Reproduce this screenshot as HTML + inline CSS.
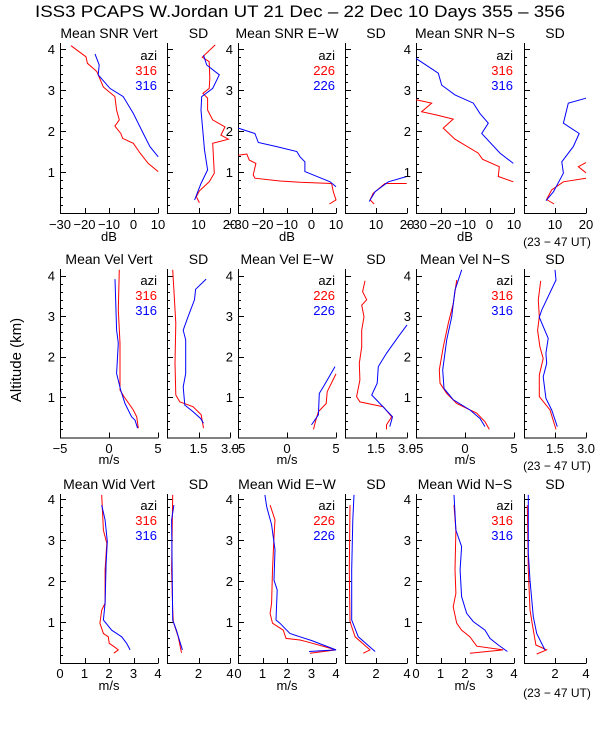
<!DOCTYPE html>
<html><head><meta charset="utf-8"><style>
html,body{margin:0;padding:0;background:#fff;}
svg{display:block;font-family:"Liberation Sans",sans-serif;}
</style></head><body>
<svg id="chart" width="600" height="750" viewBox="0 0 600 750" xmlns="http://www.w3.org/2000/svg">
<rect x="0" y="0" width="600" height="750" fill="#fff"/>
<text x="300" y="17" font-size="17" text-anchor="middle" textLength="530" lengthAdjust="spacingAndGlyphs">ISS3 PCAPS W.Jordan UT  21 Dec – 22 Dec 10 Days 355 – 356</text>
<text transform="translate(21,360) rotate(-90)" font-size="15" text-anchor="middle">Altitude (km)</text>
</svg>
<script>
// ---- data: [value, altitude km] ----
const snrVertRed=[[-25.5,4.08],[-19.4,3.81],[-18.8,3.65],[-15.0,3.45],[-12.3,3.07],[-7.6,2.84],[-6.9,2.51],[-5.8,2.27],[-7.6,2.12],[-5.2,1.94],[-4.4,1.82],[-0.1,1.70],[2.7,1.46],[6.0,1.21],[10.1,1.01]];
const snrVertBlue=[[-15.7,3.88],[-14.0,3.61],[-14.4,3.37],[-9.6,3.04],[-4.2,2.84],[-0.1,2.43],[4.0,1.94],[6.7,1.62],[10.1,1.37]];
const snrVertSdRed=[[15.3,4.10],[11.2,3.80],[13.4,3.69],[13.6,3.28],[13.4,3.04],[11.4,2.92],[12.9,2.80],[12.9,2.51],[14.5,2.27],[18.4,2.10],[17.1,1.90],[19.5,1.80],[14.5,1.70],[15.0,0.97],[13.4,0.76],[10.3,0.54],[9.3,0.40],[10.3,0.25]];
const snrVertSdBlue=[[11.6,3.85],[12.6,3.61],[16.6,3.37],[14.5,3.04],[11.0,2.84],[10.8,2.51],[11.9,1.54],[12.9,1.05],[10.8,0.72],[8.75,0.32]];
const snrEwRed=[[-29.9,1.41],[-26.4,1.44],[-25.4,1.29],[-22.7,1.21],[-23.8,0.93],[-23.1,0.85],[-12.9,0.78],[-4.7,0.75],[8.2,0.72],[8.9,0.52],[10,0.32],[7.3,0.22]];
const snrEwBlue=[[-29.9,2.07],[-23.1,1.94],[-21.7,1.72],[-14.2,1.62],[-6.0,1.50],[-4.7,1.37],[-2.7,1.25],[-2.7,1.01],[7.6,0.76],[10,0.64]];
const snrEwSdRed=[[19.9,0.72],[12.9,0.72],[9.1,0.48],[8.1,0.32],[9.4,0.22]];
const snrEwSdBlue=[[19.9,0.89],[14.0,0.76],[9.7,0.52],[7.8,0.28]];
const snrNsRed=[[-30,2.76],[-23.6,2.68],[-27.7,2.47],[-21.6,2.39],[-14.8,2.29],[-18.9,2.07],[-14.1,1.80],[-4.6,1.46],[-2.8,1.31],[4.0,1.13],[3.6,0.89],[9.7,0.76]];
const snrNsBlue=[[-30,3.77],[-20.9,3.41],[-19.5,3.12],[-14.1,2.88],[-6.6,2.68],[-3.9,2.43],[-0.5,2.19],[-3.2,1.94],[4.3,1.46],[9.7,1.21]];
const snrNsSdRed=[[20,1.23],[17.5,1.13],[20,0.98],null,[20,0.85],[12.7,0.76],[8.9,0.56],[7.3,0.33],[9.7,0.22]];
const snrNsSdBlue=[[20,2.80],[14.3,2.68],[12.7,2.19],[17.8,1.94],[15.9,1.62],[12.2,1.25],[12.7,0.97],[9.5,0.52],[7.1,0.30]];

const velVertRed=[[1.05,4.14],[0.95,3.15],[1.12,2.33],[1.12,1.17],[1.53,1.01],[2.48,0.68],[2.83,0.51],[2.99,0.23]];
const velVertBlue=[[0.61,3.91],[0.78,2.65],[0.95,2.33],[0.78,1.58],[1.19,1.17],[1.63,0.84],[2.31,0.51],[2.65,0.43],[2.92,0.23]];
const velVertSdRed=[[0.27,4.14],[0.33,3.64],[0.42,2.82],[0.38,1.83],[0.42,1.05],[0.61,0.88],[1.24,0.76],[1.63,0.56],[1.74,0.23]];
const velVertSdBlue=[[1.86,3.91],[1.36,3.66],[1.31,3.40],[1.00,2.98],[0.77,2.65],[0.89,2.41],[0.89,1.58],[0.77,1.25],[0.85,0.80],[1.24,0.64],[1.60,0.47],[1.74,0.35]];
const velEwRed=[[5,1.57],[4.1,1.13],[4.0,0.84],[3.2,0.64],[2.9,0.39],[2.7,0.20]];
const velEwBlue=[[4.9,1.75],[3.7,1.25],[3.3,1.09],[3.2,0.56],[2.5,0.31]];
const velEwSdRed=[[0.97,3.87],[0.85,3.60],[1.05,3.40],[0.81,3.27],[0.92,2.98],[0.81,2.65],[0.81,2.24],[0.69,1.83],[0.72,1.42],[0.56,1.01],[0.72,0.88],[1.85,0.76],[2.26,0.51],[2.01,0.31],[2.01,0.20]];
const velEwSdBlue=[[3.0,2.78],[2.58,2.49],[2.01,2.08],[1.61,1.75],[1.56,1.34],[1.29,1.05],[1.69,0.84],[2.30,0.51],[2.17,0.27]];
const velNsRed=[[-0.85,3.89],[-1.19,3.31],[-1.70,2.82],[-2.21,2.24],[-2.62,1.67],[-2.55,1.34],[-1.87,1.09],[-0.85,0.84],[1.19,0.60],[2.04,0.39],[2.48,0.20]];
const velNsBlue=[[-0.34,4.14],[-1.02,3.64],[-1.36,2.98],[-1.87,2.41],[-2.28,1.67],[-2.14,1.21],[-1.19,0.93],[0.51,0.68],[1.53,0.47],[2.04,0.27]];
const velNsSdRed=[[0.81,3.87],[0.69,3.40],[0.74,2.98],[0.66,2.65],[0.77,2.24],[0.93,1.95],[0.74,1.54],[0.74,1.01],[1.26,0.68],[1.55,0.20]];
const velNsSdBlue=[[1.50,4.14],[1.55,3.89],[0.86,3.15],[0.74,2.97],[1.17,2.45],[1.06,2.08],[1.10,1.83],[0.93,1.50],[1.06,0.97],[1.34,0.68],[1.61,0.27]];

const widVertRed=[[1.70,4.10],[1.77,3.24],[1.91,2.92],[1.84,2.27],[1.84,1.46],[1.70,1.29],[1.63,0.97],[1.77,0.72],[1.97,0.64],[2.01,0.48],[2.18,0.41],[2.38,0.32],[2.20,0.24]];
const widVertBlue=[[1.70,3.85],[1.84,3.49],[1.93,2.96],[1.88,2.43],[1.84,1.46],[1.77,1.05],[2.11,0.80],[2.52,0.64],[2.72,0.48],[2.86,0.32]];
const widVertSdRed=[[0.36,4.10],[0.29,2.27],[0.36,1.29],[0.40,1.01],[0.71,0.64],[0.92,0.25]];
const widVertSdBlue=[[0.44,3.85],[0.29,3.49],[0.36,1.05],[0.60,0.80],[0.98,0.32]];
const widEwRed=[[1.31,3.85],[1.51,3.49],[1.47,3.08],[1.41,2.27],[1.37,1.46],[1.31,1.21],[1.41,0.97],[1.85,0.80],[1.96,0.60],[2.53,0.56],[2.80,0.52],[4.0,0.32],[2.94,0.24]];
const widEwBlue=[[1.10,4.10],[1.17,3.81],[1.37,3.37],[1.51,2.76],[1.47,2.02],[1.60,1.78],[1.55,1.05],[1.71,0.97],[2.12,0.72],[2.53,0.64],[3.0,0.55],[4.0,0.32],[2.9,0.28]];
const widEwSdRed=[[0.32,3.85],[0.28,2.27],[0.32,1.01],[0.65,0.64],[1.61,0.32],[1.18,0.24]];
const widEwSdBlue=[[0.58,4.10],[0.50,3.49],[0.43,2.27],[0.43,1.05],[0.86,0.64],[1.94,0.28]];
const widNsRed=[[1.55,3.85],[1.63,3.24],[1.59,2.27],[1.63,1.70],[1.52,1.37],[1.66,0.97],[1.86,0.80],[2.20,0.64],[2.48,0.41],[3.56,0.32],[2.20,0.24]];
const widNsBlue=[[1.55,4.10],[1.63,3.24],[1.86,2.84],[1.80,2.27],[1.86,1.62],[2.07,1.21],[2.34,1.01],[2.82,0.80],[3.02,0.60],[3.36,0.44],[3.73,0.28]];
const widNsSdRed=[[0.21,3.85],[0.28,2.27],[0.39,1.29],[0.56,0.89],[0.77,0.44],[1.46,0.32],[0.82,0.22]];
const widNsSdBlue=[[0.28,4.10],[0.28,2.68],[0.39,2.02],[0.60,1.13],[0.82,0.72],[1.35,0.32]];

// tick label arrays
const snrTicks=[-30,-20,-10,0,10];
const snrSdTicks=[10,20];
const velTicks=[-5,0,5];
const velSdTicks=["1.5","3.0"];
const widTicks=[0,1,2,3,4];
const widSdTicks=[2,4];
const altTicks=[1,2,3,4];
const azi=["316","226","316"];

const svg=document.getElementById('chart');
const NS='http://www.w3.org/2000/svg';
function mk(tag,attrs,parent){const e=document.createElementNS(NS,tag);for(const k in attrs)e.setAttribute(k,attrs[k]);(parent||svg).appendChild(e);return e;}

const cols=[[60,158],[167,230],[238,336],[345,407],[416,514],[524,586]];
const rows=[{top:43,bot:213,ppk:41,title:38,tick:229,xl:241,ut:246},{top:269,bot:437.5,ppk:40.5,title:264,tick:453,xl:464,ut:470},{top:494,bot:663,ppk:41,title:489,tick:678,xl:690,ut:697}];
const panels=[
 {r:0,c:0,title:"Mean SNR Vert",x0:-30,x1:10,ticks:snrTicks,red:snrVertRed,blue:snrVertBlue,azi:azi[0],xl:"dB"},
 {r:0,c:1,title:"SD",x0:0,x1:20,ticks:snrSdTicks,red:snrVertSdRed,blue:snrVertSdBlue},
 {r:0,c:2,title:"Mean SNR E-W",x0:-30,x1:10,ticks:snrTicks,red:snrEwRed,blue:snrEwBlue,azi:azi[1],xl:"dB"},
 {r:0,c:3,title:"SD",x0:0,x1:20,ticks:snrSdTicks,red:snrEwSdRed,blue:snrEwSdBlue},
 {r:0,c:4,title:"Mean SNR N-S",x0:-30,x1:10,ticks:snrTicks,red:snrNsRed,blue:snrNsBlue,azi:azi[2],xl:"dB"},
 {r:0,c:5,title:"SD",x0:0,x1:20,ticks:snrSdTicks,red:snrNsSdRed,blue:snrNsSdBlue,ut:true},
 {r:1,c:0,title:"Mean Vel Vert",x0:-5,x1:5,ticks:velTicks,red:velVertRed,blue:velVertBlue,azi:azi[0],xl:"m/s"},
 {r:1,c:1,title:"SD",x0:0,x1:3,ticks:velSdTicks,red:velVertSdRed,blue:velVertSdBlue},
 {r:1,c:2,title:"Mean Vel E-W",x0:-5,x1:5,ticks:velTicks,red:velEwRed,blue:velEwBlue,azi:azi[1],xl:"m/s"},
 {r:1,c:3,title:"SD",x0:0,x1:3,ticks:velSdTicks,red:velEwSdRed,blue:velEwSdBlue},
 {r:1,c:4,title:"Mean Vel N-S",x0:-5,x1:5,ticks:velTicks,red:velNsRed,blue:velNsBlue,azi:azi[2],xl:"m/s"},
 {r:1,c:5,title:"SD",x0:0,x1:3,ticks:velSdTicks,red:velNsSdRed,blue:velNsSdBlue,ut:true},
 {r:2,c:0,title:"Mean Wid Vert",x0:0,x1:4,ticks:widTicks,red:widVertRed,blue:widVertBlue,azi:azi[0],xl:"m/s"},
 {r:2,c:1,title:"SD",x0:0,x1:4,ticks:widSdTicks,red:widVertSdRed,blue:widVertSdBlue},
 {r:2,c:2,title:"Mean Wid E-W",x0:0,x1:4,ticks:widTicks,red:widEwRed,blue:widEwBlue,azi:azi[1],xl:"m/s"},
 {r:2,c:3,title:"SD",x0:0,x1:4,ticks:widSdTicks,red:widEwSdRed,blue:widEwSdBlue},
 {r:2,c:4,title:"Mean Wid N-S",x0:0,x1:4,ticks:widTicks,red:widNsRed,blue:widNsBlue,azi:azi[2],xl:"m/s"},
 {r:2,c:5,title:"SD",x0:0,x1:4,ticks:widSdTicks,red:widNsSdRed,blue:widNsSdBlue,ut:true}
];

panels.forEach((p,i)=>{
 const R=rows[p.r],[L,Rt]=cols[p.c];
 const g=mk('g',{});
 
 
 const xs=v=>L+(v-p.x0)/(p.x1-p.x0)*(Rt-L);
 const ys=a=>R.bot-a*R.ppk;
 // axes
 const ax=mk('path',{d:`M${L+0.5},${R.top} V${R.bot+0.5} H${Rt+0.5}`,stroke:'#000','stroke-width':1,fill:'none'},g);
 
 
 let d='';
 for(let k=1;k*0.2<=(R.bot-R.top)/R.ppk;k++){const a=k*0.2,y=Math.round(ys(a))+0.5;const maj=k%5===0;d+=`M${L},${y}h${maj?6:3}`;}
 p.ticks.forEach(t=>{const x=Math.round(xs(+t))+0.5;d+=`M${x},${R.bot}v-5`;});
 const tk=mk('path',{d:d,stroke:'#000','stroke-width':1},g);
 
 
 // labels
 p.ticks.forEach(t=>{const tx=mk('text',{x:xs(+t),y:R.tick,'font-size':13,'text-anchor':'middle'},g);tx.textContent=String(t).replace('-','\u2212');
  
  });
 if(p.c%2===0){altTicks.forEach(a=>{const tx=mk('text',{x:L-5,y:ys(a)+5,'font-size':13,'text-anchor':'end'},g);tx.textContent=a;
  
  });}
 const tt=mk('text',{x:(L+Rt)/2,y:R.title,'font-size':14,'text-anchor':'middle'},g);tt.textContent=p.title.replace('-','\u2212');
 
 
 if(p.xl){const t=mk('text',{x:(L+Rt)/2,y:R.xl,'font-size':13,'text-anchor':'middle'},g);t.textContent=p.xl;
  
  }
 if(p.ut){const t=mk('text',{x:557,y:R.ut,'font-size':12,'text-anchor':'middle'},g);t.textContent='(23 \u2212 47 UT)';
  
  }
 if(p.azi){const by=R.top+(p.r===1?16:p.r===2?16:17);
  [['azi','#000'],[p.azi,'#f00'],[p.azi,'#00f']].forEach((q,j)=>{const t=mk('text',{x:Rt-1,y:by+j*15,'font-size':13,'text-anchor':'end',fill:q[1]},g);t.textContent=q[0];
   
   });}
 // series
 [['red','#f00',p.red],['blue','#00f',p.blue]].forEach(s=>{
  let dd='',pen=false;
  s[2].forEach(pt=>{if(!pt){pen=false;return;}dd+=(pen?'L':'M')+xs(pt[0]).toFixed(1)+','+ys(pt[1]).toFixed(1);pen=true;});
  const ln=mk('path',{d:dd,stroke:s[1],'stroke-width':1,fill:'none'},g);
  
  
 });
});
</script>
</body></html>
